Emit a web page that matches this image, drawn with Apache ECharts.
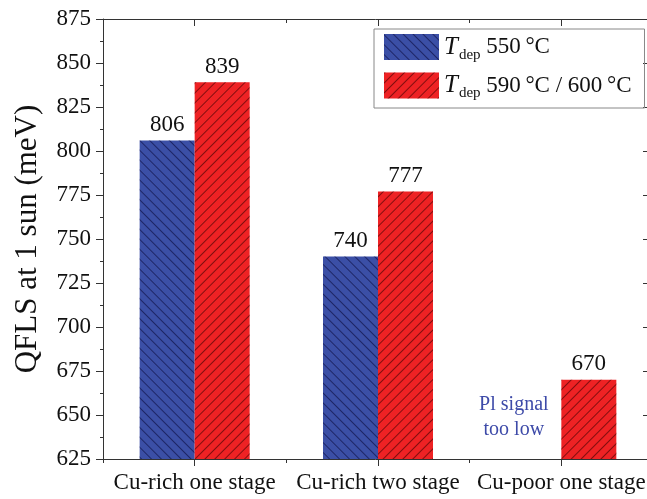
<!DOCTYPE html>
<html><head><meta charset="utf-8">
<script src="https://cdn.jsdelivr.net/npm/echarts@6/dist/echarts.min.js"></script>
<style>html,body{margin:0;padding:0;background:#fff}#c{width:647px;height:499px}</style>
</head><body><div id="c"></div>
<script>
const categories = ['Cu-rich one stage', 'Cu-rich two stage', 'Cu-poor one stage'];
const qfls550 = [806, 740, null];
const qfls600 = [839, 777, 670];
const seriesNames = ['550\u2009°C', '590\u2009°C / 600\u2009°C'];
const yMin = 625, yMax = 875, yStep = 25;
const noteText = 'Pl signal\ntoo low';
const noteAt = ['Cu-poor one stage', 649];

const FF = '"Liberation Serif", "Times New Roman", serif';
const axisCol = '#333';
const chart = echarts.init(document.getElementById('c'));

const decalBlue = {symbol:'rect', symbolSize:1, dashArrayX:[1,0], dashArrayY:[1,5.5], rotation: Math.PI/4, color:'rgba(10,10,60,0.6)'};
const decalRed = {symbol:'rect', symbolSize:1, dashArrayX:[1,0], dashArrayY:[1,5.5], rotation: -Math.PI/4, color:'rgba(60,0,0,0.6)'};

function catAxis(pos, center, len, inside, showLine, showLabel) {
  return {
    type:'category', data:categories, position:pos, boundaryGap:true,
    axisLine:{show:showLine, lineStyle:{color:axisCol, width:1}},
    axisTick:{show:true, alignWithLabel:center, length:len, inside:inside, lineStyle:{color:axisCol, width:1}},
    axisLabel:{show:showLabel, interval:0, margin:12, fontFamily:FF, fontSize:23, color:'#111'},
    splitLine:{show:false}
  };
}

chart.setOption({
  animation:false,
  backgroundColor:'#fff',
  grid:{left:103, width:550, top:19, bottom:40, containLabel:false, outerBoundsMode:'none'},
  legend:{
    orient:'vertical', left:374, top:29,
    borderColor:'#888', borderWidth:1, padding:[5,13,7,10],
    itemWidth:55, itemHeight:26, itemGap:10, icon:'rect',
    data:seriesNames,
    formatter: n => '{i|T}{s|dep} {n|' + n + '}',
    textStyle:{fontFamily:FF, fontSize:23, color:'#111',
      rich:{
        i:{fontFamily:FF, fontStyle:'italic', fontSize:25, color:'#111'},
        s:{fontFamily:FF, fontSize:15, color:'#111', padding:[16,0,0,1]},
        n:{fontFamily:FF, fontSize:23, color:'#111'}
      }}
  },
  xAxis:[
    catAxis('bottom', false, 4, false, true, true),
    catAxis('bottom', true, 7, false, false, false),
    catAxis('top', false, 4, true, true, false),
    catAxis('top', true, 7, true, false, false)
  ],
  yAxis:[
    {type:'value', min:yMin, max:yMax, interval:yStep, position:'left',
     name:'QFLS at 1 sun (meV)', nameLocation:'middle', nameGap:60, nameRotate:90,
     nameTextStyle:{fontFamily:FF, fontSize:31, color:'#111'},
     axisLine:{show:true, lineStyle:{color:axisCol}},
     axisTick:{show:true, length:7, lineStyle:{color:axisCol}},
     minorTick:{show:true, splitNumber:2, length:3, lineStyle:{color:axisCol}},
     axisLabel:{margin:12, fontFamily:FF, fontSize:23, color:'#111'},
     splitLine:{show:false}, minorSplitLine:{show:false}},
    {type:'value', min:yMin, max:yMax, interval:yStep, position:'right',
     axisLine:{show:true, lineStyle:{color:axisCol}},
     axisTick:{show:true, inside:true, length:10, lineStyle:{color:axisCol}},
     axisLabel:{show:false}, splitLine:{show:false}}
  ],
  series:[
    {name:seriesNames[0], type:'bar', xAxisIndex:0, yAxisIndex:0, data:qfls550,
     barWidth:55, barGap:'0%',
     itemStyle:{color:'#3b4fa6', decal:decalBlue},
     label:{show:true, position:'top', distance:4, fontFamily:FF, fontSize:23, color:'#111'},
     markPoint:{symbol:'rect', symbolSize:1, itemStyle:{color:'rgba(0,0,0,0)'},
       data:[{coord:noteAt, value:0}],
       label:{show:true, position:'inside', offset:[-20,0], formatter:noteText,
         fontFamily:FF, fontSize:20, lineHeight:25, color:'#3d4aa8', align:'center'}}},
    {name:seriesNames[1], type:'bar', xAxisIndex:0, yAxisIndex:0, data:qfls600,
     barWidth:55, barGap:'0%',
     itemStyle:{color:'#ee2224', decal:decalRed},
     label:{show:true, position:'top', distance:4, fontFamily:FF, fontSize:23, color:'#111'}}
  ]
});
</script></body></html>
